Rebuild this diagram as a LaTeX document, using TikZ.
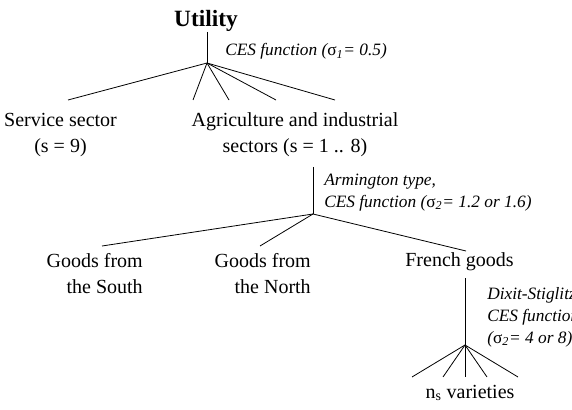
\documentclass[tikz,border=0pt]{standalone}
\usepackage{fontspec}
\setmainfont{Liberation Serif}
\begin{document}
\begin{tikzpicture}[x=0.75pt, y=-0.75pt,
  item/.style={font=\fontsize{15}{19.5}\selectfont, inner sep=0pt},
  note/.style={font=\fontsize{13}{16.5}\selectfont\itshape, inner sep=0pt, align=left, anchor=base west},
  branch/.style={line width=0.6pt}]
% Set the page to the size of the original
\clip (0,0) rectangle (572,410);

% Level one: utility
\node[font=\fontsize{17.5}{21}\selectfont\bfseries, inner sep=0pt, anchor=base] (util) at (206,27) {Utility};
\coordinate (top1) at (207,32);
\coordinate (fork1) at (207,63);
\node[note] (ces1) at (225,56) {CES function ({\upshape σ}\textsubscript{\textit{1}}= 0.5)};
% base of a two-line node sits on its last line
\node[item, align=center, anchor=base] (serv) at (60.5,152) {Service sector\\(s = 9)};
\node[item, align=center, anchor=base] (agri) at (295,152) {Agriculture and industrial\\sectors (s = 1 .. 8)};
\coordinate (servend) at (68,100);
\foreach \xend [count=\i] in {193,229,276,335}
  \coordinate (agriend\i) at (\xend,100);
\draw[branch] (top1) -- (fork1);
\draw[branch] (fork1) -- (servend);
\foreach \i in {1,...,4}
  \draw[branch] (fork1) -- (agriend\i);

% Level two: Armington nest
\coordinate (top2) at (313,167);
\coordinate (fork2) at (313,214);
\node[note] (arm) at (324,207) {Armington type,\\CES function ({\upshape σ}\textsubscript{\textit{2}}= 1.2 or 1.6)};
\node[item, align=right, anchor=base east] (south) at (143,293) {Goods from\\the South};
\node[item, align=right, anchor=base east] (north) at (311,293) {Goods from\\the North};
\node[item, anchor=base] (french) at (459.5,267) {French goods};
\coordinate (southend) at (102,246);
\coordinate (northend) at (260,246);
\coordinate (frenchend) at (466,251);
\draw[branch] (top2) -- (fork2);
\draw[branch] (fork2) -- (southend);
\draw[branch] (fork2) -- (northend);
\draw[branch] (fork2) -- (frenchend);

% Level three: Dixit-Stiglitz varieties
\coordinate (top3) at (465,278);
\coordinate (fork3) at (465,345);
\node[note] (dix) at (487,343) {Dixit-Stiglitz,\\CES function\\({\upshape σ}\textsubscript{\textit{2}}= 4 or 8)};
\node[item, anchor=base] (var) at (470,398) {n\textsubscript{s} varieties};
\foreach \xend [count=\i] in {412,443,465,487,518}
  \coordinate (varend\i) at (\xend,377);
\draw[branch] (top3) -- (fork3);
\foreach \i in {1,...,5}
  \draw[branch] (fork3) -- (varend\i);
\end{tikzpicture}
\end{document}
